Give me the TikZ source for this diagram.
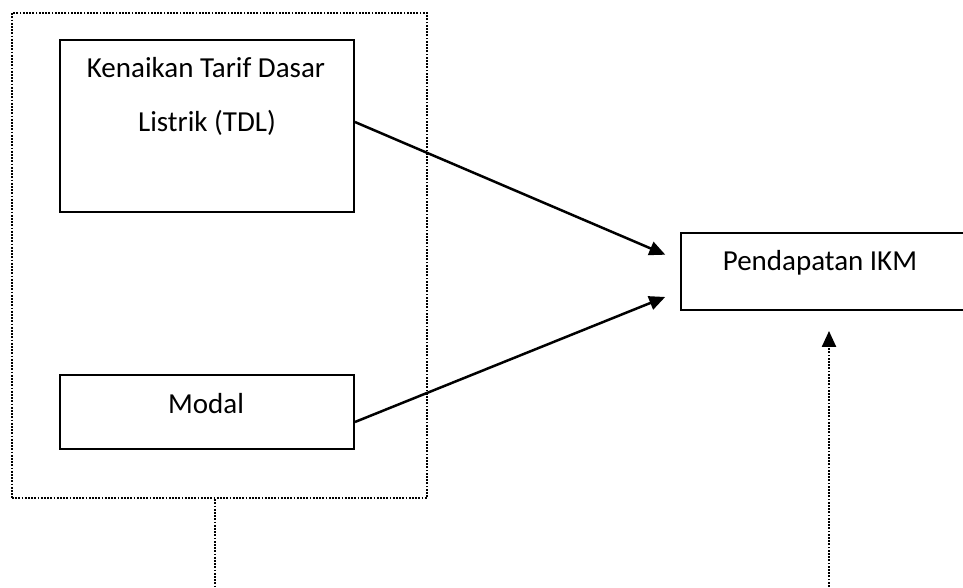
\documentclass[tikz,border=0pt]{standalone}
\usepackage{fontspec}
\setmainfont{Carlito}
\usetikzlibrary{arrows.meta,calc}
\begin{document}
\begin{tikzpicture}[x=1pt,y=-1pt,
  box/.style={draw,line width=1.9pt,minimum width=294pt,inner sep=0pt},
  txt/.style={font=\fontsize{29}{29}\selectfont,anchor=base,inner sep=0pt},
  dotline/.style={line width=2.3pt,dash pattern=on 1.8pt off 1.4pt},
  tip/.style={-{Triangle[length=16pt,width=14pt]}},
  arr/.style={line width=2.5pt,tip}
]
\useasboundingbox (0,0) rectangle (963,588);
% outer dotted frame
\node[draw,dotline,minimum width=415pt,minimum height=485pt,inner sep=0pt] (outer) at (219.5,255.5) {};
% boxes
\node[box,minimum height=172pt] (tdl) at (207,126) {};
\node[box,minimum height=74pt] (modal) at (207,412) {};
\node[draw,line width=1.9pt,inner sep=0pt,minimum width=286pt,minimum height=77pt] (ikm) at (824,271.5) {};
% texts
\node[txt] (t1) at (206,78) {Kenaikan Tarif Dasar};
\node[txt] (t2) at (207,132) {Listrik (TDL)};
\node[txt] (t3) at (206,413) {Modal};
\node[txt] (t4) at (820,270) {Pendapatan IKM};
% solid arrows
\draw[arr,shorten >=16pt] ($(tdl.east)+(0,-4)$) -- ($(ikm.west)+(0,-10.5)$);
\draw[arr,shorten >=16pt] ($(modal.east)+(0,10)$) -- ($(ikm.west)+(0,19.5)$);
% dotted connectors
\coordinate (c1) at (215,590);
\coordinate (c2) at (829,590);
\draw[dotline] (outer.south -| c1) -- (c1);
\draw[dotline,tip,shorten >=20pt] (c2) -- (c2 |- ikm.south);
\end{tikzpicture}
\end{document}
